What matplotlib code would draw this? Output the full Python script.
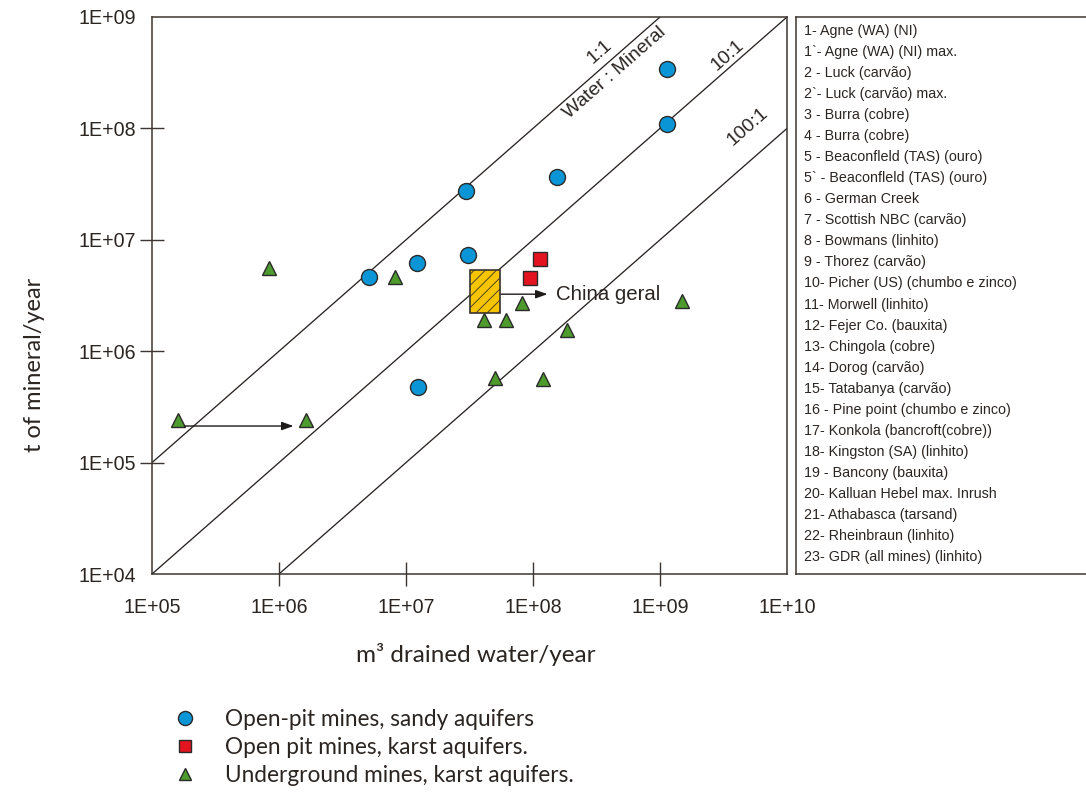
import numpy as np
import matplotlib
matplotlib.use("Agg")
import matplotlib.pyplot as plt
from matplotlib import font_manager as fm
from matplotlib.patches import Rectangle

# ---------------- data ----------------
sandy_x = [5.1e6, 1.22e7, 3.1e7, 2.97e7, 1.55e8, 1.13e9, 1.13e9, 1.24e7]
sandy_y = [4.6e6, 6.2e6, 7.3e6, 2.74e7, 3.66e7, 3.4e8, 1.1e8, 4.8e5]

karst_open_x = [1.13e8, 9.5e7]
karst_open_y = [6.7e6, 4.5e6]

underground_x = [8.3e5, 8.2e6, 1.6e5, 1.63e6, 4.1e7, 6.1e7, 8.2e7, 1.85e8, 5.0e7, 1.2e8, 1.49e9]
underground_y = [5.6e6, 4.6e6, 2.4e5, 2.4e5, 1.9e6, 1.9e6, 2.7e6, 1.55e6, 5.7e5, 5.6e5, 2.8e6]

china_box = [3.2e7, 5.5e7, 2.2e6, 5.4e6]          # x0, x1, y0, y1
china_arrow = [5.6e7, 1.3e8, 3.25e6]               # x_start, x_end, y
shift_arrow = [1.8e5, 1.3e6, 2.13e5]               # x_start, x_end, y

ratios = [1, 10, 100]                               # water : mineral

x_ticks = [1e5, 1e6, 1e7, 1e8, 1e9, 1e10]
x_ticklabels = ["1E+05", "1E+06", "1E+07", "1E+08", "1E+09", "1E+10"]
y_ticks = [1e4, 1e5, 1e6, 1e7, 1e8, 1e9]
y_ticklabels = ["1E+04", "1E+05", "1E+06", "1E+07", "1E+08", "1E+09"]

mine_list = [
    "1- Agne (WA) (NI)", "1`- Agne (WA) (NI) max.", "2 - Luck (carvão)",
    "2`- Luck (carvão) max.", "3 - Burra (cobre)", "4 - Burra (cobre)",
    "5 - Beaconfleld (TAS) (ouro)", "5` - Beaconfleld (TAS) (ouro)",
    "6 - German Creek", "7 - Scottish NBC (carvão)", "8 - Bowmans (linhito)",
    "9 - Thorez (carvão)", "10- Picher (US) (chumbo e zinco)",
    "11- Morwell (linhito)", "12- Fejer Co. (bauxita)", "13- Chingola (cobre)",
    "14- Dorog (carvão)", "15- Tatabanya (carvão)",
    "16 - Pine point (chumbo e zinco)", "17- Konkola (bancroft(cobre))",
    "18- Kingston (SA) (linhito)", "19 - Bancony (bauxita)",
    "20- Kalluan Hebel max. Inrush", "21- Athabasca (tarsand)",
    "22- Rheinbraun (linhito)", "23- GDR (all mines) (linhito)",
]

series_labels = ["Open-pit mines, sandy aquifers",
                 "Open pit mines, karst aquifers.",
                 "Underground mines, karst aquifers."]

# ---------------- fonts ----------------
names = {f.name for f in fm.fontManager.ttflist}
if "Liberation Sans Narrow" in names:
    NARROW, NSCALE = "Liberation Sans Narrow", 1.0
else:
    NARROW, NSCALE = "Liberation Sans", 0.84
HUMAN = "Lato" if "Lato" in names else "DejaVu Sans"

def nfs(s):
    return s * NSCALE

TXT = "#2b2522"
SPINE = "#3d3532"
BLUE = "#0a96d6"
RED = "#e3141f"
GREEN = "#4c9b2c"
YELLOW = "#f6c500"
EDGE = "#2a2a2a"

W, H = 1086, 795
fig = plt.figure(figsize=(W / 100, H / 100), dpi=100)
fig.patch.set_facecolor("white")

L, R, T, B = 152, 787, 17, 574
ax = fig.add_axes([L / W, 1 - B / H, (R - L) / W, (B - T) / H])
ax.set_xscale("log")
ax.set_yscale("log")
ax.set_xlim(1e5, 1e10)
ax.set_ylim(1e4, 1e9)

# ratio lines
xx = np.array([1e4, 1e11])
for r in ratios:
    ax.plot(xx, xx / r, color="#2a2423", lw=0.95, zorder=1)

# points
ax.plot(sandy_x, sandy_y, ls="none", marker="o", ms=11.5, mfc=BLUE,
        mec=EDGE, mew=1.0, zorder=4, label=series_labels[0])
ax.plot(karst_open_x, karst_open_y, ls="none", marker="s", ms=9.4, mfc=RED,
        mec=EDGE, mew=1.0, zorder=4, label=series_labels[1])
ax.plot(underground_x, underground_y, ls="none", marker="^", ms=10.5, mfc=GREEN,
        mec=EDGE, mew=1.0, zorder=4, label=series_labels[2])

# China box
plt.rcParams["hatch.linewidth"] = 0.6
x0, x1, y0, y1 = china_box
ax.add_patch(Rectangle((x0, y0), x1 - x0, y1 - y0, facecolor=YELLOW,
                       edgecolor="#3a3330", lw=1.2, hatch="///", zorder=3))
arrow_style = dict(arrowstyle="-|>,head_length=0.7,head_width=0.25",
                   color="#1e1a19", lw=1.0, shrinkA=0, shrinkB=0)
ax.annotate("", xy=(china_arrow[1], china_arrow[2]),
            xytext=(china_arrow[0], china_arrow[2]),
            arrowprops=arrow_style, zorder=5)
ax.text(china_arrow[1] * 1.16, china_arrow[2], "China geral", fontsize=nfs(17.5),
        family=NARROW, color=TXT, va="center", ha="left")
ax.annotate("", xy=(shift_arrow[1], shift_arrow[2]),
            xytext=(shift_arrow[0], shift_arrow[2]),
            arrowprops=arrow_style, zorder=5)

# diagonal labels
ang = np.degrees(np.arctan(((B - T) / 5) / ((R - L) / 5)))
diag = [("1:1", 10**8.528, 10**8.686), ("Water : Mineral", 10**8.646, 10**8.497),
        ("10:1", 10**9.535, 10**8.659), ("100:1", 10**9.693, 10**8.013)]
for s, xv, yv in diag:
    ax.text(xv, yv, s, rotation=ang, rotation_mode="anchor", ha="center",
            va="center", fontsize=nfs(16.5), family=NARROW, color=TXT)

# axes styling
for sp in ax.spines.values():
    sp.set_color(SPINE)
    sp.set_linewidth(1.1)
ax.set_xticks(x_ticks)
ax.set_xticklabels(x_ticklabels)
ax.set_yticks(y_ticks)
ax.set_yticklabels(y_ticklabels)
ax.minorticks_off()
ax.tick_params(axis="both", direction="inout", length=17, width=1.0,
               color=SPINE, labelcolor=TXT, labelsize=nfs(16.8))
ax.tick_params(axis="x", pad=9)
ax.tick_params(axis="y", pad=3)
for lab in ax.get_xticklabels() + ax.get_yticklabels():
    lab.set_family(NARROW)
for axis in (ax.xaxis, ax.yaxis):
    tks = axis.get_major_ticks()
    for t in (tks[0], tks[-1]):
        t.tick1line.set_visible(False)
        t.tick2line.set_visible(False)

fig.text(35 / W, 1 - 365 / H, "t of mineral/year", rotation=90, ha="center",
         va="center", fontsize=17, family=HUMAN, color=TXT)
fig.text(476 / W, 1 - 655 / H, "m³ drained water/year", ha="center",
         va="center", fontsize=17.5, family=[HUMAN, "DejaVu Sans"], color=TXT)

# right list box
bx = fig.add_axes([796 / W, 1 - B / H, (W - 796 + 20) / W, (B - T) / H])
bx.set_xticks([])
bx.set_yticks([])
for sp in bx.spines.values():
    sp.set_color(SPINE)
    sp.set_linewidth(1.1)
n = len(mine_list)
top_y, step = 31, (557 - 31) / (n - 1)
for i, s in enumerate(mine_list):
    fig.text(804 / W, 1 - (top_y + i * step) / H, s, ha="left", va="center",
             fontsize=nfs(12.2), family=NARROW, color=TXT)

# bottom legend
leg = fig.legend(handles=ax.get_lines()[len(ratios):], loc="upper left",
                 bbox_to_anchor=(174 / W, 1 - 709 / H), frameon=False,
                 prop=dict(family=HUMAN, size=16.3), handlelength=1.0,
                 handletextpad=1.25, labelspacing=0.3, markerscale=0.88,
                 borderaxespad=0, borderpad=0)
for t in leg.get_texts():
    t.set_color(TXT)

fig.savefig("out.png", dpi=100, facecolor="white")
